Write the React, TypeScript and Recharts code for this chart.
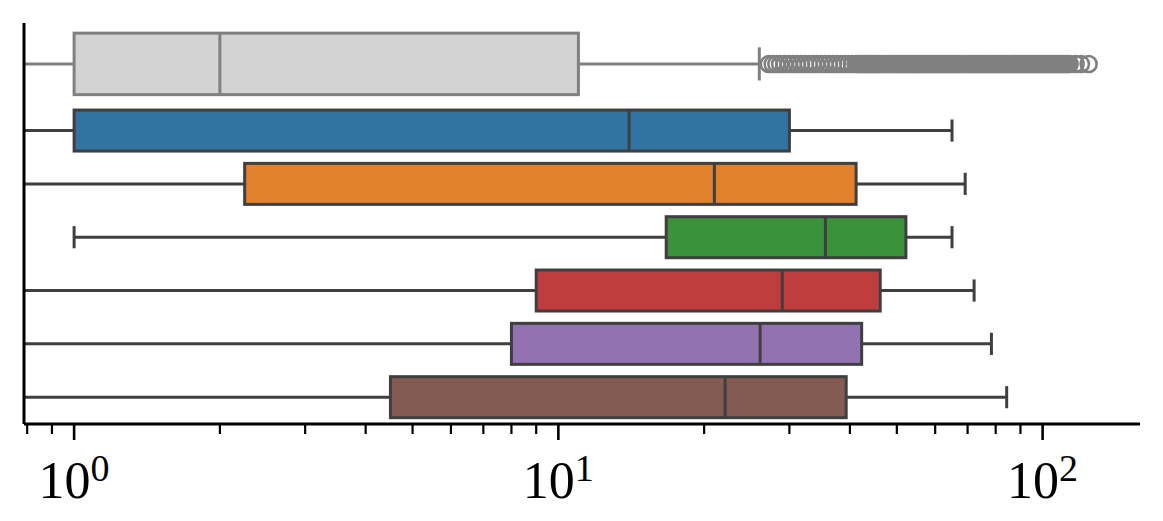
import { ComposedChart, Bar, Scatter, XAxis, YAxis } from "recharts";

// one box per row, top to bottom
const groups = ["all", "g1", "g2", "g3", "g4", "g5", "g6"];
const positions = [-1.25, 0, 1, 2, 3, 4, 5];
const whiskerLow = [0.3, 0.3, 0.3, 1, 0.3, 0.3, 0.3];
const q1 = [1, 1, 2.25, 16.7, 9.0, 8.0, 4.5];
const median = [2, 14, 21, 35.6, 29, 26.1, 22.1];
const q3 = [11, 30, 41.2, 52.2, 46.2, 42.3, 39.3];
const whiskerHigh = [26, 65, 69.2, 65, 72.2, 78.4, 84.3];

// outliers of the "all" row
const fliers = [
  27.2, 27.7, 28.2, 28.7, 29.3, 29.9, 30.5, 31.1, 31.7, 32.3, 32.9, 33.5, 34.1, 34.8, 35.5,
  36.2, 36.9, 37.6, 38.3, 39, 39.7, 40.4, 41.1, 41.6, 42, 42.4, 42.8, 43.2, 43.6, 44, 44.4,
  44.8, 45.2, 45.6, 46, 46.5, 47, 47.5, 48, 48.5, 49, 49.5, 50, 50.5, 51, 51.5, 52, 52.5, 53,
  53.5, 54, 54.5, 55, 55.5, 56, 56.5, 57, 57.6, 58.2, 58.8, 59.4, 60, 60.6, 61.2, 61.8, 62.4,
  63, 63.6, 64.2, 64.8, 65.4, 66, 66.7, 67.4, 68.1, 68.8, 69.5, 70.2, 70.9, 71.6, 72.3, 73,
  73.7, 74.4, 75.1, 75.8, 76.5, 77.3, 78.1, 78.9, 79.7, 80.5, 81.3, 82.1, 82.9, 83.7, 84.5,
  85.3, 86.1, 86.9, 87.7, 88.5, 89.4, 90.3, 91.2, 92.1, 93, 93.9, 94.8, 95.7, 96.6, 97.5,
  98.4, 99.3, 100.2, 101.2, 102.2, 103.2, 104.2, 105.2, 106.2, 107.2, 108.2, 109.3, 110.4,
  111.5, 112.6, 113.7, 117, 120, 124.5,
];

const xTicks = [0.8, 0.9, 1, 2, 3, 4, 5, 6, 7, 8, 9, 10, 20, 30, 40, 50, 60, 70, 80, 90, 100];
const majorTicks = [1, 10, 100];
const majorExponents = ["0", "1", "2"];

const fills = ["#d3d3d3", "#3274a1", "#e1812c", "#3a923a", "#c03d3e", "#9372b2", "#845b53"];
const lineColors = ["#808080", "#3f3f3f", "#3f3f3f", "#3f3f3f", "#3f3f3f", "#3f3f3f", "#3f3f3f"];

const rows = groups.map((g, i) => ({
  group: g,
  pos: positions[i],
  whisker: [whiskerLow[i], whiskerHigh[i]],
  box: [q1[i], q3[i]],
  med: [q1[i], median[i]],
}));

const flierRows = fliers.map((v) => ({ v, pos: positions[0] }));

const BOX = 41;
const GRAY_SCALE = 1.5;
const LW = 3;

function rowInfo(props: any) {
  const i = groups.indexOf(props.payload?.group);
  const h = props.height * (i === 0 ? GRAY_SCALE : 1);
  const cy = props.y + props.height / 2;
  return { i, h, cy };
}

const WhiskerShape = (props: any) => {
  const { i, h, cy } = rowInfo(props);
  const left = props.x;
  const right = props.x + props.width;
  const cap = h * 0.27;
  return (
    <g stroke={lineColors[i]} strokeWidth={LW} fill="none">
      <line x1={left} x2={right} y1={cy} y2={cy} />
      <line x1={left} x2={left} y1={cy - cap} y2={cy + cap} />
      <line x1={right} x2={right} y1={cy - cap} y2={cy + cap} />
    </g>
  );
};

const BoxShape = (props: any) => {
  const { i, h, cy } = rowInfo(props);
  return (
    <rect
      x={props.x}
      y={cy - h / 2}
      width={props.width}
      height={h}
      fill={fills[i]}
      stroke={lineColors[i]}
      strokeWidth={LW}
    />
  );
};

const MedianShape = (props: any) => {
  const { i, h, cy } = rowInfo(props);
  const mx = props.x + props.width;
  return <line x1={mx} x2={mx} y1={cy - h / 2} y2={cy + h / 2} stroke={lineColors[i]} strokeWidth={LW} />;
};

const FlierShape = (props: any) => (
  <circle cx={props.cx} cy={props.cy} r={8} fill="none" stroke="#808080" strokeWidth={2.6} />
);

const LogTick = (props: any) => {
  const { x, y, payload } = props;
  const k = majorTicks.indexOf(payload.value);
  const major = k >= 0;
  return (
    <g>
      <line x1={x} x2={x} y1={y} y2={y + (major ? 16 : 10)} stroke="#000" strokeWidth={major ? 2.6 : 2.2} />
      {major && (
        <text x={x} y={y + 74} textAnchor="middle" fontFamily="Liberation Serif" fontSize={52} fill="#000">
          10
          <tspan fontSize={38} dy={-17}>
            {majorExponents[k]}
          </tspan>
        </text>
      )}
    </g>
  );
};

export default function App() {
  return (
    <ComposedChart
      width={1147}
      height={505}
      data={rows}
      layout="vertical"
      barGap={-BOX}
      margin={{ top: 15, right: 15, bottom: 9, left: 15 }}
    >
      <XAxis
        type="number"
        scale="log"
        domain={[0.788, 158.9]}
        allowDataOverflow
        ticks={xTicks}
        interval={0}
        tick={<LogTick />}
        tickLine={false}
        tickSize={0}
        tickMargin={0}
        height={80}
        axisLine={{ stroke: "#000", strokeWidth: 3 }}
      />
      <YAxis
        type="number"
        dataKey="pos"
        domain={[-2.02, 5.5]}
        allowDataOverflow
        width={1}
        tick={false}
        tickLine={false}
        axisLine={{ stroke: "#000", strokeWidth: 3 }}
      />
      <Bar dataKey="whisker" barSize={BOX} shape={WhiskerShape} isAnimationActive={false} />
      <Bar dataKey="box" barSize={BOX} shape={BoxShape} isAnimationActive={false} />
      <Bar dataKey="med" barSize={BOX} shape={MedianShape} isAnimationActive={false} />
      <Scatter data={flierRows} dataKey="v" shape={FlierShape} isAnimationActive={false} />
    </ComposedChart>
  );
}
